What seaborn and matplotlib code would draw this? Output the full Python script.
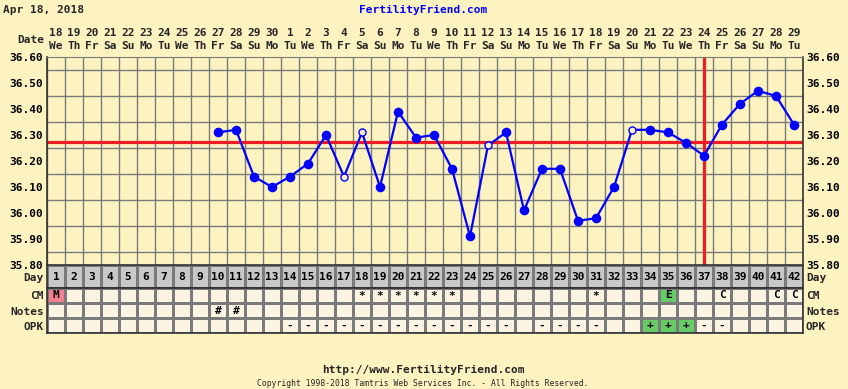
import numpy as np
import pandas as pd
import matplotlib
matplotlib.use("Agg")
import matplotlib.pyplot as plt
from matplotlib.colors import ListedColormap
import seaborn as sns

# ==========================================
# Chart data
# ==========================================
dates = ["18", "19", "20", "21", "22", "23", "24", "25", "26", "27", "28", "29", "30",
         "1", "2", "3", "4", "5", "6", "7", "8", "9", "10", "11", "12", "13", "14",
         "15", "16", "17", "18", "19", "20", "21", "22", "23", "24", "25", "26", "27",
         "28", "29"]
weekdays = ["We", "Th", "Fr", "Sa", "Su", "Mo", "Tu"] * 6

temp_days = list(range(10, 43))
temps = [36.31, 36.32, 36.14, 36.10, 36.14, 36.19, 36.30, 36.14, 36.31, 36.10,
         36.39, 36.29, 36.30, 36.17, 35.91, 36.26, 36.31, 36.01, 36.17, 36.17,
         35.97, 35.98, 36.10, 36.32, 36.32, 36.31, 36.27, 36.22, 36.34, 36.42,
         36.47, 36.45, 36.34]
open_days = [17, 18, 25, 33]

coverline = 36.275
ovulation_day = 37

cm = {1: "M", 18: "*", 19: "*", 20: "*", 21: "*", 22: "*", 23: "*", 31: "*",
      35: "E", 38: "C", 41: "C", 42: "C"}
notes = {10: "#", 11: "#"}
opk = {d: "-" for d in list(range(14, 27)) + [28, 29, 30, 31, 37, 38]}
opk.update({34: "+", 35: "+", 36: "+"})
cm_colour = {1: 1, 35: 2}
opk_colour = {34: 2, 35: 2, 36: 2}

# ==========================================
# Style
# ==========================================
BG = "#FDF3C1"
CELL = "#FCF4E2"
GRID = "#7A7A7A"
W, H = 848, 389
FONT = "DejaVu Sans Mono"

sns.set_style("white")
plt.rcParams["font.family"] = [FONT, "DejaVu Sans"]
plt.rcParams["font.weight"] = "bold"


def fx(px):
    return px / W


def fy(py):
    return 1 - py / H


fig = plt.figure(figsize=(W / 100, H / 100), dpi=100, facecolor=BG)

# ==========================================
# Temperature chart
# ==========================================
ax = fig.add_axes([fx(47), fy(265), 756 / W, 208 / H])
ax.set_facecolor(BG)

df = pd.DataFrame({"day": temp_days, "temp": temps})
df["open"] = df["day"].isin(open_days)

ax.set_xlim(0.5, 42.5)
ax.set_ylim(35.80, 36.60)
ax.set_xticks(np.arange(0.5, 43, 1), minor=True)
ax.set_yticks(np.arange(35.80, 36.601, 0.05), minor=True)
ax.grid(which="minor", color=GRID, linewidth=1.0)
ax.set_axisbelow(True)

ax.axhline(coverline, color="#EE1C24", linewidth=2.3, zorder=2)
ax.axvline(ovulation_day, color="#EE1C24", linewidth=2.3, zorder=2)

sns.lineplot(data=df, x="day", y="temp", color="#0000FF", linewidth=1.6,
             ax=ax, zorder=3)
sns.scatterplot(data=df[~df["open"]], x="day", y="temp", color="#0000FF",
                s=48, edgecolor="#0000FF", linewidth=0, ax=ax, zorder=4)
sns.scatterplot(data=df[df["open"]], x="day", y="temp", color=BG, s=26,
                edgecolor="#0000FF", linewidth=1.0, ax=ax, zorder=4)

yt = np.arange(35.80, 36.601, 0.10)
ax.set_yticks(yt)
ax.set_yticklabels([f"{v:.2f}" for v in yt])
ax.set_xticks([])
ax.tick_params(axis="y", length=0, pad=2.5, labelsize=8, labelright=True,
               labelcolor="black")
ax.set_xlabel("")
ax.set_ylabel("")
for s in ["left", "right"]:
    ax.spines[s].set_color("#333333")
    ax.spines[s].set_linewidth(1.2)
ax.spines["top"].set_color(GRID)
ax.spines["bottom"].set_visible(False)

# date header
for i in range(42):
    xd = (i + 1 - 0.5) / 42
    fig.text(fx(47) + xd * 756 / W, fy(33), dates[i], ha="center",
             va="center", fontsize=8, fontweight="bold")
    fig.text(fx(47) + xd * 756 / W, fy(46), weekdays[i], ha="center",
             va="center", fontsize=8, fontweight="bold")
fig.text(fx(44), fy(40), "Date", ha="right", va="center", fontsize=8,
         fontweight="bold")

# ==========================================
# Day row
# ==========================================
ax_day = fig.add_axes([fx(47), fy(288), 756 / W, 23 / H])
sns.heatmap(np.zeros((1, 42)), cmap=ListedColormap(["#C8C8C8"]), cbar=False,
            annot=np.array([[str(d) for d in range(1, 43)]]), fmt="",
            annot_kws={"color": "black", "fontsize": 8, "fontweight": "bold"},
            linewidths=1.0, linecolor=GRID, ax=ax_day)
ax_day.set_xticks([])
ax_day.set_yticks([])

# ==========================================
# CM / Notes / OPK rows
# ==========================================
codes = np.zeros((3, 42))
labels = np.full((3, 42), "", dtype=object)
for d, t in cm.items():
    labels[0, d - 1] = t
for d, t in notes.items():
    labels[1, d - 1] = t
for d, t in opk.items():
    labels[2, d - 1] = t
for d, c in cm_colour.items():
    codes[0, d - 1] = c
for d, c in opk_colour.items():
    codes[2, d - 1] = c

ax_rows = fig.add_axes([fx(47), fy(333), 756 / W, 45 / H])
sns.heatmap(codes, cmap=ListedColormap([CELL, "#F5808F", "#66CC66"]),
            vmin=-0.5, vmax=2.5, cbar=False, annot=labels, fmt="",
            annot_kws={"color": "black", "fontsize": 8, "fontweight": "bold"},
            linewidths=1.0, linecolor=GRID, ax=ax_rows)
ax_rows.set_xticks([])
ax_rows.set_yticks([])

for a in (ax_day, ax_rows):
    for s in a.spines.values():
        s.set_visible(True)
        s.set_color("#333333")
        s.set_linewidth(1.2)

row_names = ["Day", "CM", "Notes", "OPK"]
row_y = [278, 296, 312, 327]
for name, yy in zip(row_names, row_y):
    fig.text(fx(44), fy(yy), name, ha="right", va="center", fontsize=8,
             fontweight="bold")
    fig.text(fx(806), fy(yy), name, ha="left", va="center", fontsize=8,
             fontweight="bold")

# ==========================================
# Header / footer text
# ==========================================
fig.text(fx(3), fy(10), "Apr 18, 2018", ha="left", va="center", fontsize=8,
         fontweight="bold")
fig.text(fx(423), fy(10), "FertilityFriend.com", ha="center", va="center",
         fontsize=8, fontweight="bold", color="#0000FF")
fig.text(fx(423), fy(370), "http://www.FertilityFriend.com", ha="center",
         va="center", fontsize=8, fontweight="bold")
fig.text(fx(423), fy(384),
         "Copyright 1998-2018 Tamtris Web Services Inc. - All Rights Reserved.",
         ha="center", va="center", fontsize=5.8, fontweight="normal")

fig.savefig("out.png", dpi=100, facecolor=BG)
